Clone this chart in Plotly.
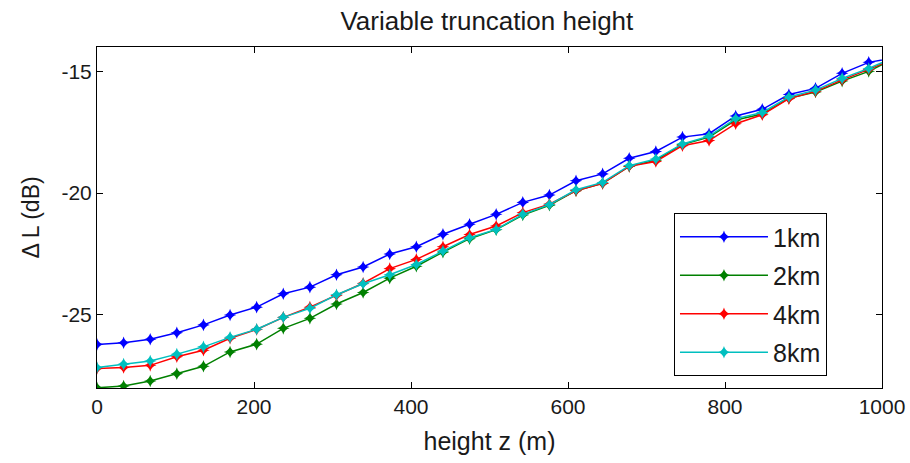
import plotly.graph_objects as go

heights = [round(33.9 * k, 1) for k in range(31)]

series_names = ["1km", "2km", "4km", "8km"]
series_colors = ["#0000FF", "#008000", "#FF0000", "#00BFBF"]

dl_1km = [-26.21, -26.14, -26.00, -25.73, -25.41, -25.00, -24.68, -24.13, -23.86, -23.35,
          -23.03, -22.50, -22.20, -21.69, -21.28, -20.87, -20.38, -20.08, -19.49, -19.21,
          -18.57, -18.29, -17.70, -17.56, -16.83, -16.56, -15.95, -15.70, -15.08, -14.63, -14.43]
dl_2km = [-27.99, -27.92, -27.71, -27.41, -27.11, -26.52, -26.20, -25.55, -25.14, -24.55,
          -24.08, -23.49, -23.00, -22.42, -21.87, -21.50, -20.90, -20.50, -19.90, -19.60,
          -18.90, -18.65, -18.00, -17.70, -17.00, -16.75, -16.10, -15.85, -15.40, -15.00, -14.45]
dl_4km = [-27.20, -27.16, -27.07, -26.72, -26.45, -25.96, -25.60, -25.10, -24.68, -24.20,
          -23.70, -23.10, -22.72, -22.20, -21.70, -21.35, -20.80, -20.45, -19.90, -19.60,
          -18.90, -18.70, -18.05, -17.84, -17.15, -16.78, -16.12, -15.82, -15.35, -14.92, -14.45]
dl_8km = [-27.16, -27.02, -26.89, -26.61, -26.31, -25.92, -25.59, -25.10, -24.73, -24.17,
          -23.72, -23.35, -22.93, -22.38, -21.83, -21.49, -20.87, -20.47, -19.86, -19.56,
          -18.87, -18.60, -17.98, -17.66, -16.94, -16.69, -16.05, -15.77, -15.29, -14.88, -14.40]

series_values = [dl_1km, dl_2km, dl_4km, dl_8km]

x_ticks = [0, 200, 400, 600, 800, 1000]
x_tick_labels = ["0", "200", "400", "600", "800", "1000"]
y_ticks = [-25, -20, -15]
y_tick_labels = ["-25", "-20", "-15"]

FONT = "Liberation Sans, Arial, sans-serif"
TXT = "#1a1a1a"

fig = go.Figure()
for name, color, vals in zip(series_names, series_colors, series_values):
    fig.add_trace(go.Scatter(
        x=heights, y=vals, name=name, mode="lines+markers",
        line=dict(color=color, width=1.5),
        marker=dict(symbol="star-diamond", size=9, color=color, line=dict(width=0)),
        legendgroup=name,
    ))

axis_common = dict(
    showline=True, linecolor="black", linewidth=1, mirror="ticks",
    ticks="inside", ticklen=6, tickcolor="black", showgrid=False, zeroline=False,
    tickfont=dict(family=FONT, size=21, color=TXT),
    ticklabeloverflow="allow", automargin=False,
)

fig.update_layout(
    width=910, height=463,
    margin=dict(l=97, r=28, t=47, b=75),
    paper_bgcolor="white", plot_bgcolor="white",
    title=dict(text="Variable truncation height", x=0.535, xanchor="center",
               y=0.955, yanchor="middle",
               font=dict(family=FONT, size=26, color=TXT)),
    xaxis=dict(range=[0, 1000], tickvals=x_ticks, ticktext=x_tick_labels,
               title=dict(text="height z (m)", font=dict(family=FONT, size=25, color=TXT)),
               **axis_common),
    yaxis=dict(range=[-28, -14], tickvals=y_ticks, ticktext=y_tick_labels,
               title=dict(text="Δ L (dB)", font=dict(family=FONT, size=23, color=TXT)),
               **axis_common),
    legend=dict(x=0.735, y=0.513, xanchor="left", yanchor="top",
                bgcolor="white", bordercolor="black", borderwidth=1,
                font=dict(family=FONT, size=25, color=TXT),
                tracegroupgap=3, itemwidth=88),
    showlegend=True,
)

fig.write_html("out.html")
